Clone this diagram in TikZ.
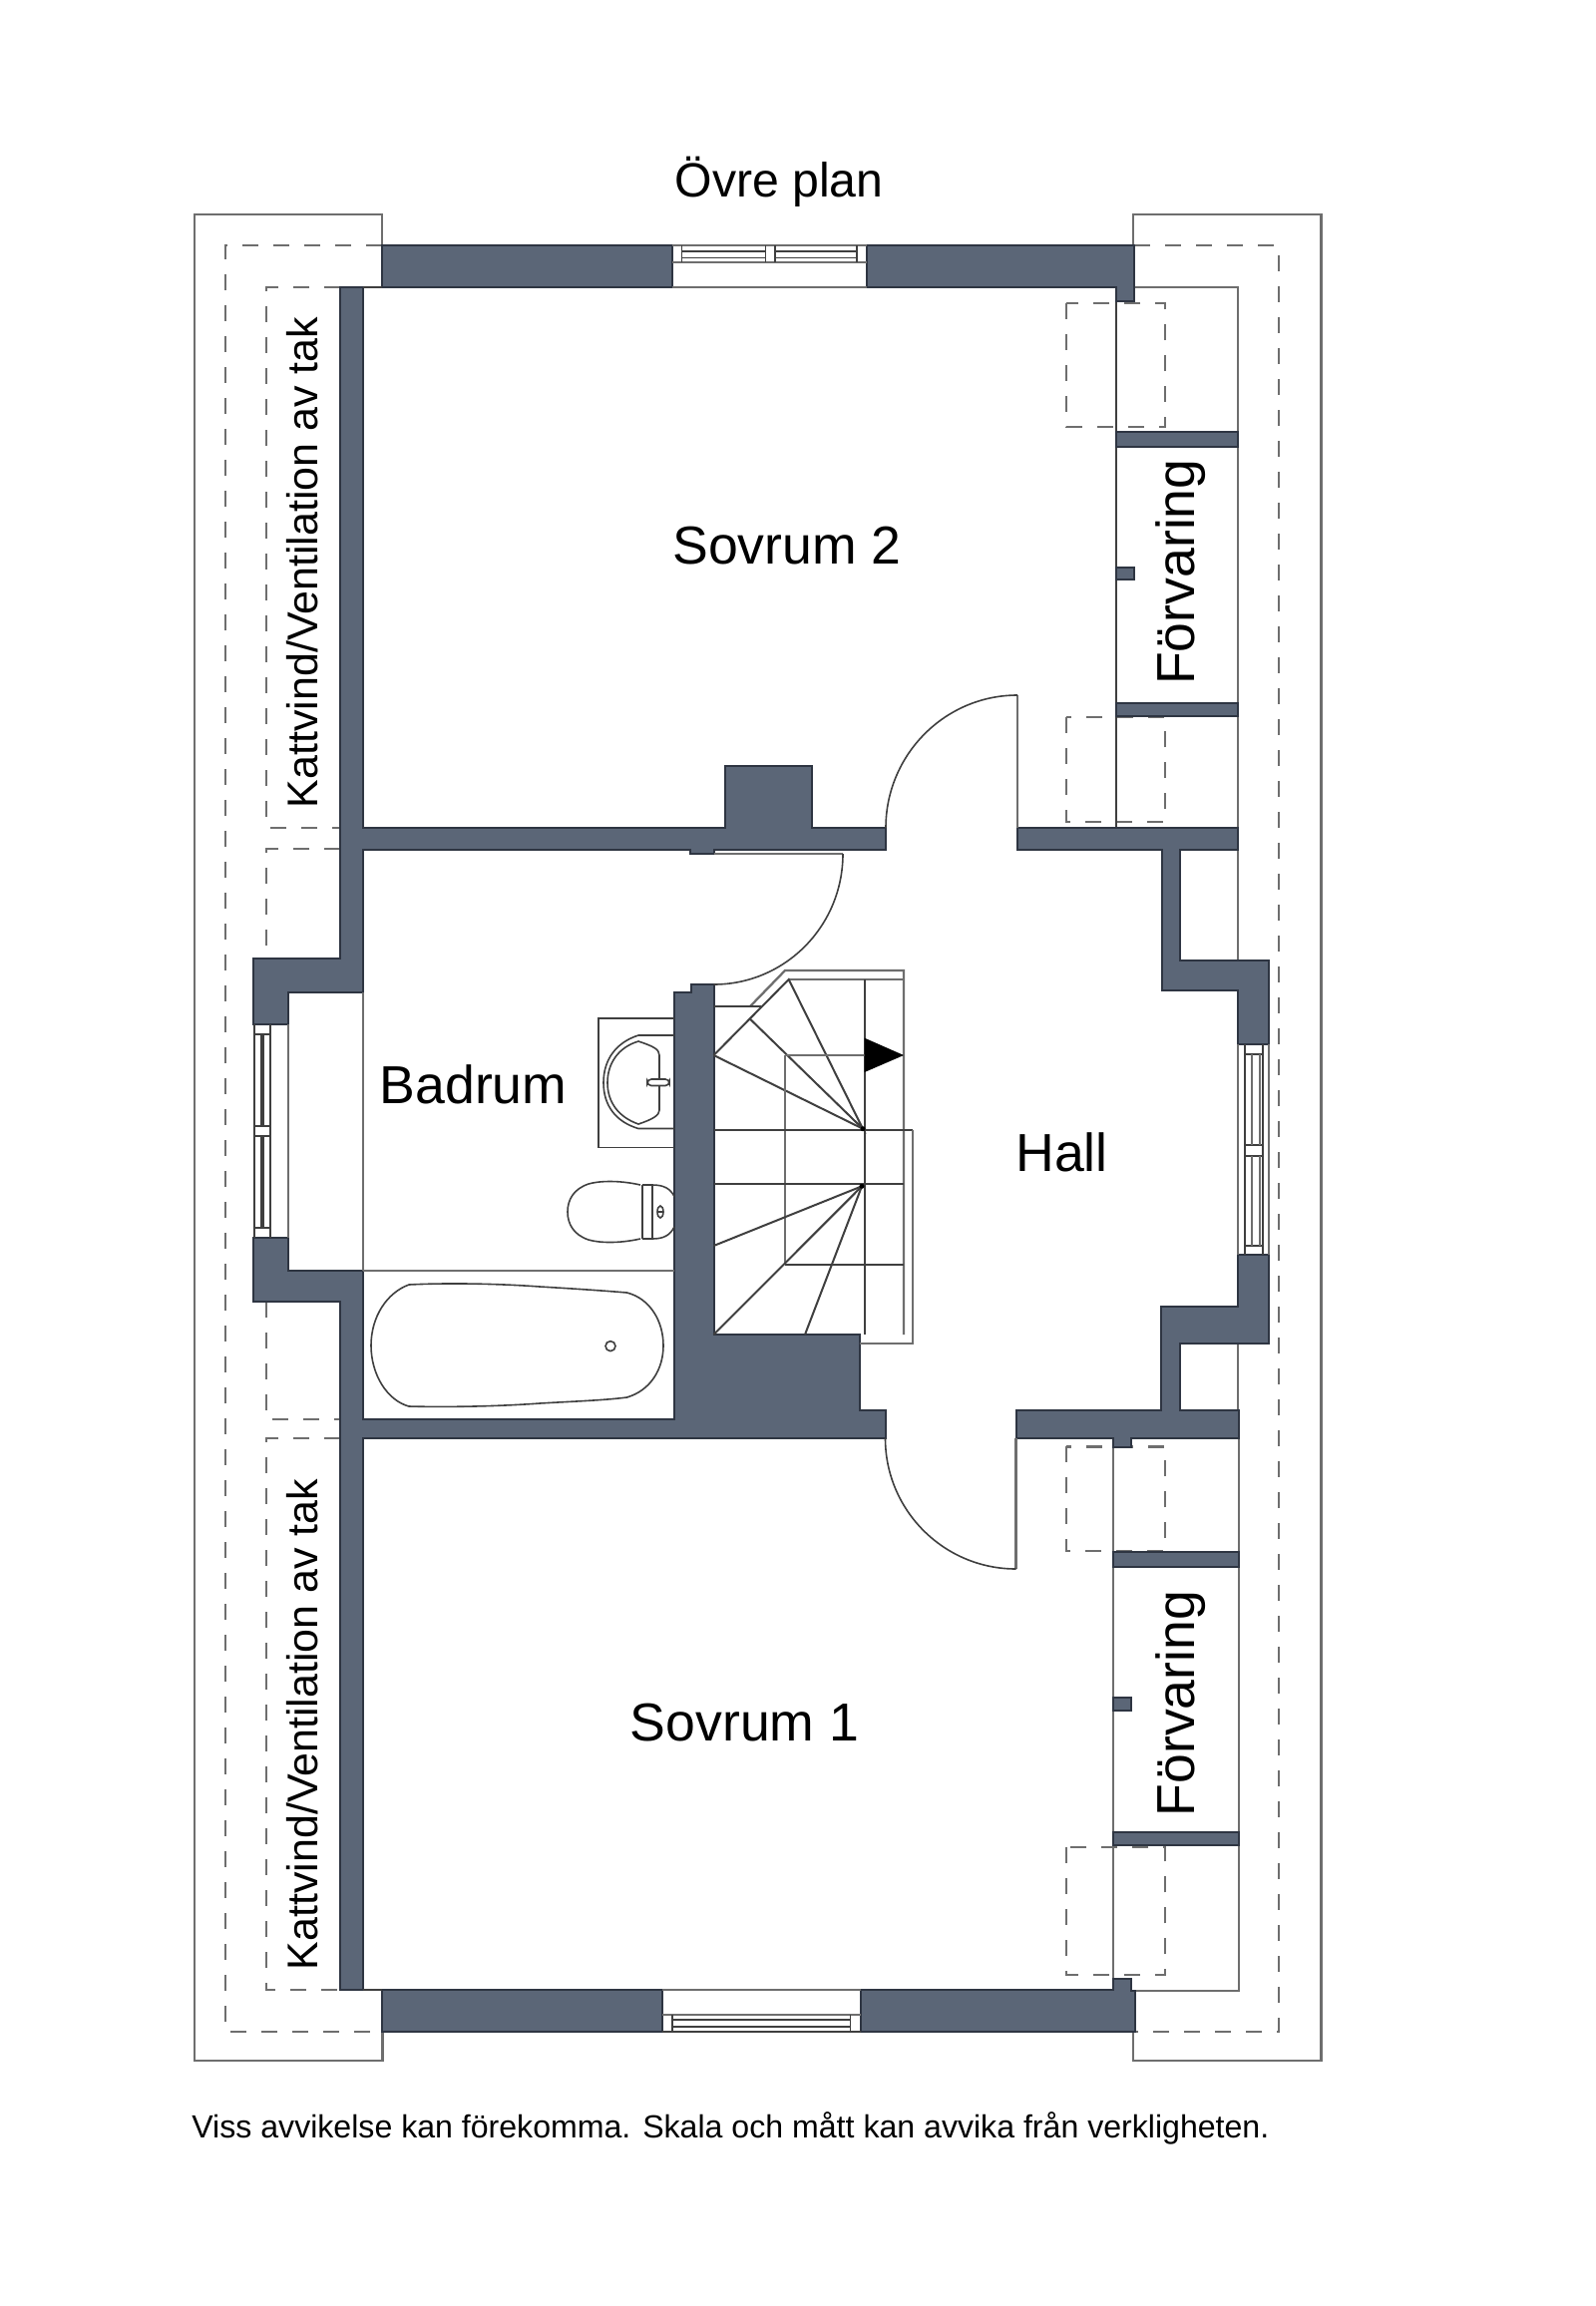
\documentclass[tikz,border=0pt]{standalone}
\usepackage{fontspec}
\setmainfont{Liberation Sans}
\definecolor{wallc}{HTML}{5B6677}
\definecolor{walle}{HTML}{2E3542}
\definecolor{linec}{HTML}{6E6E6E}
\definecolor{fixc}{HTML}{3F3F3F}
\tikzset{
  wall/.style={fill=wallc,draw=walle,line width=1pt,line join=miter},
  thin line/.style={draw=linec,line width=1.15pt},
  dark line/.style={draw=fixc,line width=1pt},
  fix line/.style={draw=fixc,line width=0.8pt},
  hatch line/.style={draw=linec,line width=1.1pt,dash pattern=on 8pt off 7.5pt},
  roomlabel/.style={inner sep=0pt,font=\fontsize{26.8pt}{30pt}\selectfont,text=black},
  sidelabel/.style={inner sep=0pt,font=\fontsize{21.5pt}{24pt}\selectfont,text=black,rotate=90},
}
\begin{document}
\begin{tikzpicture}[x=0.5pt,y=-0.5pt]
\useasboundingbox (0,0) rectangle (1600,2312);
\fill[white] (0,0) rectangle (1600,2312);

% outer roof outlines
\draw[thin line] (383.5,2037) -- (383.5,2066) -- (195,2066) -- (195,215) -- (383,215) -- (383,246);
\draw[thin line] (1136,246) -- (1136,215) -- (1324.5,215) -- (1324.5,2066) -- (1136,2066) -- (1136,2037);

% dashed lines
\draw[hatch line] (383,246) -- (226,246) -- (226,2037) -- (383,2037);
\draw[hatch line] (1137,246) -- (1282,246) -- (1282,2037) -- (1137,2037);
\draw[hatch line] (341,288) -- (267,288) -- (267,830) -- (341,830);
\draw[hatch line] (341,851) -- (267,851) -- (267,961);
\draw[hatch line] (267,1305) -- (267,1423) -- (341,1423);
\draw[hatch line] (341,1442) -- (267,1442) -- (267,1995) -- (341,1995);
\draw[hatch line] (1069,304) rectangle (1168,428);
\draw[hatch line] (1069,719) rectangle (1168,824);
\draw[hatch line] (1068.6,1450.4) rectangle (1168,1555);
\draw[hatch line] (1068.6,1852) rectangle (1168,1980);

% closet lines
\draw[dark line] (1119,288) -- (1119,830);
\draw[thin line] (1137,288) -- (1241,288) -- (1241,830);
\draw[thin line] (1241,852) -- (1241,963);
\draw[thin line] (1241,1347) -- (1241,1414);
\draw[thin line] (1242,1442) -- (1242,1996) -- (1137.5,1996);
\draw[thin line] (1116,1442) -- (1116,1996);

% walls
\path[wall] (383,246) -- (674,246) -- (674,288) -- (383,288) -- cycle;
\path[wall] (869,246) -- (1137,246) -- (1137,302) -- (1119,302) -- (1119,288) -- (869,288) -- cycle;
\path[wall] (341,288) -- (364,288) -- (364,830) -- (727,830) -- (727,768) -- (814,768) -- (814,830) -- (888,830) -- (888,852) -- (716,852) -- (716,856) -- (692,856) -- (692,852) -- (364,852) -- (364,995) -- (289,995) -- (289,1027) -- (254,1027) -- (254,961) -- (341,961) -- cycle;
\path[wall] (254,1241) -- (289,1241) -- (289,1274) -- (364,1274) -- (364,1423) -- (676,1423) -- (676,995) -- (692.7,995) -- (692.7,987) -- (715.5,987) -- (715.5,1338) -- (861.7,1338) -- (861.7,1414) -- (887.5,1414) -- (887.5,1442) -- (364,1442) -- (364,1995) -- (341,1995) -- (341,1305) -- (254,1305) -- cycle;
\path[wall] (383,1995) -- (664,1995) -- (664,2037) -- (383,2037) -- cycle;
\path[wall] (862.5,1995) -- (1116,1995) -- (1116,1984) -- (1134,1984) -- (1134,1996) -- (1137.5,1996) -- (1137.5,2037) -- (862.5,2037) -- cycle;
\path[wall] (1020,830) -- (1241,830) -- (1241,852) -- (1183,852) -- (1183,963) -- (1272,963) -- (1272,1047) -- (1241,1047) -- (1241,993) -- (1165,993) -- (1165,852) -- (1020,852) -- cycle;
\path[wall] (1241,1258) -- (1272,1258) -- (1272,1347) -- (1183,1347) -- (1183,1414) -- (1242,1414) -- (1242,1442) -- (1134,1442) -- (1134,1451) -- (1116,1451) -- (1116,1442) -- (1018.6,1442) -- (1018.6,1414) -- (1164,1414) -- (1164,1310) -- (1241,1310) -- cycle;
\path[wall] (1119,433) rectangle (1241,447.5);
\path[wall] (1119,705) rectangle (1241,717.5);
\path[wall] (1116,1556) rectangle (1242,1570.5);
\path[wall] (1116,1836.6) rectangle (1242,1850);
\path[wall] (1119,569) rectangle (1137,581);
\path[wall] (1116,1702) rectangle (1134,1715);

% alcove and bath lines
\draw[thin line] (364,995) -- (364,1274);
\draw[thin line] (289,1027) -- (289,1241);
\draw[thin line] (364,1274) -- (676,1274);
\draw[thin line] (674,288) -- (869,288);
\draw[thin line] (664,1995) -- (862.5,1995);
\draw[dark line] (364,288) -- (383,288);
\draw[dark line] (364,1995) -- (383,1995);

% top window
\draw[thin line] (674,246) -- (869,246);
\draw[thin line] (674,263.3) -- (869,263.3);
\draw[fix line] (683.5,246) -- (683.5,263.3) (767.5,246) -- (767.5,263.3) (777,246) -- (777,263.3) (859,246) -- (859,263.3);
\draw[fix line] (683.5,252) -- (767.5,252) (683.5,258.5) -- (767.5,258.5) (777,252) -- (859,252) (777,258.5) -- (859,258.5);
% bottom window
\draw[dark line] (664,2037) -- (862.5,2037);
\draw[thin line] (664,2020) -- (862.5,2020);
\draw[fix line] (674,2020) -- (674,2037) (852.5,2020) -- (852.5,2037);
\draw[fix line] (674,2025) -- (852.5,2025) (674,2032) -- (852.5,2032);
% left window
\draw[dark line] (255,1027) -- (255,1241);
\draw[dark line] (271,1027) -- (271,1241);
\draw[fix line] (255,1037) -- (271,1037) (255,1129) -- (271,1129) (255,1139) -- (271,1139) (255,1231) -- (271,1231);
\draw[fix line] (262,1037) -- (262,1129) (264,1037) -- (264,1129) (262,1139) -- (262,1231) (264,1139) -- (264,1231);
% right window
\draw[thin line] (1241,1047) -- (1241,1258);
\draw[thin line] (1272,1047) -- (1272,1258);
\draw[fix line] (1248,1047) -- (1248,1258) (1266,1047) -- (1266,1258);
\draw[fix line] (1248,1057) -- (1266,1057) (1248,1148) -- (1266,1148) (1248,1159) -- (1266,1159) (1248,1249) -- (1266,1249);
\draw[thin line] (1255,1057) -- (1255,1148) (1255,1159) -- (1255,1249) (1263,1057) -- (1263,1148) (1263,1159) -- (1263,1249);

% doors
\draw[thin line] (1020,697) -- (1020,830);
\draw[fix line] (888,830) .. controls (888,757) and (947,697) .. (1020,697);
\draw[thin line] (1018.6,1442) -- (1018.6,1573);
\draw[fix line] (887.5,1442) .. controls (887.5,1514) and (946,1573) .. (1018.6,1573);
\draw[thin line] (716,856) -- (845,856);
\draw[fix line] (845,856) .. controls (845,928.5) and (787,987) .. (715.5,987);

% stairs
\draw[thin line] (752,1009) -- (787,973) -- (906,973) -- (906,1338);
\draw[thin line] (790.7,982) -- (906,982);
\draw[dark line] (715.5,1009) -- (763,1009);
\draw[dark line] (715.5,1058) -- (790.7,982) -- (865,1131.7) -- (752,1021.7);
\draw[dark line] (865,1131.7) -- (715.5,1058);
\draw[dark line] (866.7,982) -- (866.7,1338);
\draw[thin line] (786.7,1058) -- (786.7,1266.7);
\draw[thin line] (786.7,1058) -- (866.7,1058);
\path[fill=black] (866.7,1040.7) -- (906,1058) -- (866.7,1075) -- cycle;
\draw[dark line] (715.5,1133) -- (915,1133);
\draw[thin line] (915,1133) -- (915,1346.7) -- (861.7,1346.7);
\draw[dark line] (715.5,1187.3) -- (906,1187.3);
\draw[dark line] (715.5,1249) -- (864,1189.3);
\draw[dark line] (715.5,1338) -- (864,1189.3);
\draw[dark line] (807,1338) -- (864,1189.3);
\draw[dark line] (786.7,1267.7) -- (906,1267.7);
\fill[black] (865,1131.7) circle[radius=2.5] (864,1189.3) circle[radius=2.5];

% sink
\draw[fix line] (676,1021) -- (600,1021) -- (600,1150.5) -- (676,1150.5);
\draw[fix line] (676,1038) -- (640,1038) .. controls (618,1045) and (605,1062) .. (605,1085.5) .. controls (605,1109) and (618,1125) .. (640,1131.5) -- (676,1131.5);
\draw[fix line] (661,1058) .. controls (661,1052) and (655,1049) .. (640,1044) .. controls (620,1050) and (609,1066) .. (609,1085.5) .. controls (609,1105) and (620,1120) .. (640,1127) .. controls (655,1122) and (661,1118) .. (661,1113) -- cycle;
\draw[fix line,fill=white,rounded corners=2pt] (649,1082) rectangle (671,1088.5);

% toilet
\draw[fix line] (642,1188) .. controls (620,1183) and (600,1184) .. (590,1187) .. controls (575,1192) and (569,1203) .. (569,1215) .. controls (569,1227) and (575,1238) .. (590,1243) .. controls (600,1246) and (620,1247) .. (642,1242);
\draw[fix line] (644,1188) -- (644,1242) (654,1188) -- (654,1242);
\draw[fix line] (644,1188) -- (654,1188) .. controls (666,1188) and (672,1192) .. (676,1199.5);
\draw[fix line] (644,1242) -- (654,1242) .. controls (666,1242) and (672,1238) .. (676,1230);
\draw[fix line] (662,1215) ellipse[x radius=3,y radius=6];
\draw[fix line] (659,1215) -- (665,1215);

% bath
\draw[fix line] (410,1288) .. controls (450,1286) and (500,1287) .. (541,1290) .. controls (575,1292) and (605,1294) .. (628.5,1296) .. controls (652,1302) and (665,1325) .. (665,1349) .. controls (665,1373) and (652,1394) .. (628.5,1401) .. controls (605,1404) and (575,1405) .. (541,1407) .. controls (500,1410) and (450,1411) .. (410,1410) .. controls (388,1404) and (372,1378) .. (372,1349) .. controls (372,1320) and (388,1296) .. (410,1288) -- cycle;
\draw[fix line] (612,1349.6) circle[radius=5];

% labels
\node[inner sep=0pt,font=\fontsize{24.1pt}{27pt}\selectfont,text=black] (title) at (781,182.5) {Övre plan};
\node[roomlabel] (s2) at (789,547) {Sovrum 2};
\node[roomlabel] (s1) at (746.5,1727) {Sovrum 1};
\node[roomlabel] (bad) at (474.5,1087) {Badrum};
\node[roomlabel] (hall) at (1064.5,1155.5) {Hall};
\node[roomlabel,rotate=90] (f2) at (1184,573.6) {Förvaring};
\node[roomlabel,rotate=90] (f1) at (1184,1708) {Förvaring};
\node[sidelabel] (k2) at (303,564) {Kattvind/Ventilation av tak};
\node[sidelabel] (k1) at (303,1729) {Kattvind/Ventilation av tak};
\node[anchor=base west,inner sep=0pt,font=\fontsize{16.05pt}{19pt}\selectfont,text=black] (foot) at (192,2143.5) {Viss avvikelse kan förekomma. Skala och mått kan avvika från verkligheten.};
\end{tikzpicture}
\end{document}
